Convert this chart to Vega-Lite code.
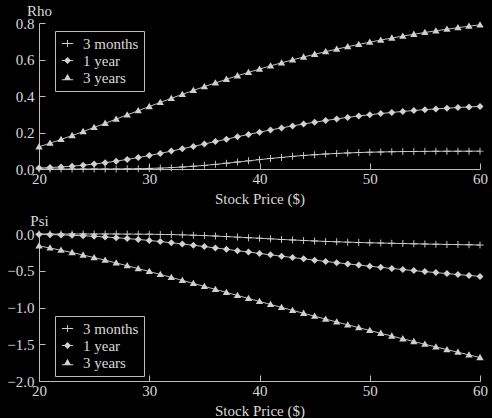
{
  "$schema": "https://vega.github.io/schema/vega-lite/v6.json",
  "background": "black",
  "padding": {"left": 6, "top": 3, "right": 10, "bottom": 0},
  "config": {
    "view": {"stroke": null},
    "font": "Liberation Serif",
    "axis": {"grid": false, "domainColor": "#bdbdbd", "tickColor": "#bdbdbd", "labelColor": "#d9d9d9", "titleColor": "#d9d9d9", "labelFont": "Liberation Serif", "titleFont": "Liberation Serif", "labelFontSize": 15, "titleFontSize": 15, "titleFontWeight": "normal", "tickSize": -6, "labelPadding": 11},
    "legend": {"orient": "none", "strokeColor": "#bdbdbd", "strokeWidth": 1, "padding": 5, "labelColor": "#d9d9d9", "labelFont": "Liberation Serif", "labelFontSize": 15, "symbolFillColor": "#d0d0d0", "symbolStrokeColor": "#d0d0d0", "symbolSize": 49, "symbolStrokeWidth": 0, "symbolOpacity": 1, "rowPadding": 1, "labelOffset": 8, "fillColor": "black"},
    "concat": {"spacing": 7}
  },
  "datasets": {
    "d": [
      {"S":20,"T":"3 months","rho":0,"psi":0},{"S":20,"T":"1 year","rho":0.0052,"psi":-0.0058},{"S":20,"T":"3 years","rho":0.1217,"psi":-0.1621},
      {"S":21,"T":"3 months","rho":0,"psi":0},{"S":21,"T":"1 year","rho":0.0079,"psi":-0.0088},{"S":21,"T":"3 years","rho":0.1413,"psi":-0.1903},
      {"S":22,"T":"3 months","rho":0,"psi":0},{"S":22,"T":"1 year","rho":0.0112,"psi":-0.0127},{"S":22,"T":"3 years","rho":0.1619,"psi":-0.2205},
      {"S":23,"T":"3 months","rho":0,"psi":0},{"S":23,"T":"1 year","rho":0.0155,"psi":-0.0176},{"S":23,"T":"3 years","rho":0.1833,"psi":-0.2523},
      {"S":24,"T":"3 months","rho":0,"psi":0},{"S":24,"T":"1 year","rho":0.0208,"psi":-0.0238},{"S":24,"T":"3 years","rho":0.2053,"psi":-0.2858},
      {"S":25,"T":"3 months","rho":0.0001,"psi":-0.0001},{"S":25,"T":"1 year","rho":0.0271,"psi":-0.0313},{"S":25,"T":"3 years","rho":0.2278,"psi":-0.3206},
      {"S":26,"T":"3 months","rho":0.0002,"psi":-0.0003},{"S":26,"T":"1 year","rho":0.0346,"psi":-0.0401},{"S":26,"T":"3 years","rho":0.2505,"psi":-0.3567},
      {"S":27,"T":"3 months","rho":0.0005,"psi":-0.0005},{"S":27,"T":"1 year","rho":0.043,"psi":-0.0502},{"S":27,"T":"3 years","rho":0.2735,"psi":-0.3938},
      {"S":28,"T":"3 months","rho":0.001,"psi":-0.0011},{"S":28,"T":"1 year","rho":0.0524,"psi":-0.0616},{"S":28,"T":"3 years","rho":0.2965,"psi":-0.4318},
      {"S":29,"T":"3 months","rho":0.0018,"psi":-0.0019},{"S":29,"T":"1 year","rho":0.0627,"psi":-0.0743},{"S":29,"T":"3 years","rho":0.3195,"psi":-0.4706},
      {"S":30,"T":"3 months","rho":0.0031,"psi":-0.0033},{"S":30,"T":"1 year","rho":0.0738,"psi":-0.0882},{"S":30,"T":"3 years","rho":0.3423,"psi":-0.51},
      {"S":31,"T":"3 months","rho":0.005,"psi":-0.0053},{"S":31,"T":"1 year","rho":0.0856,"psi":-0.1031},{"S":31,"T":"3 years","rho":0.3649,"psi":-0.55},
      {"S":32,"T":"3 months","rho":0.0075,"psi":-0.008},{"S":32,"T":"1 year","rho":0.098,"psi":-0.119},{"S":32,"T":"3 years","rho":0.3871,"psi":-0.5903},
      {"S":33,"T":"3 months","rho":0.0108,"psi":-0.0117},{"S":33,"T":"1 year","rho":0.1108,"psi":-0.1357},{"S":33,"T":"3 years","rho":0.409,"psi":-0.631},
      {"S":34,"T":"3 months","rho":0.015,"psi":-0.0162},{"S":34,"T":"1 year","rho":0.1239,"psi":-0.1531},{"S":34,"T":"3 years","rho":0.4304,"psi":-0.6718},
      {"S":35,"T":"3 months","rho":0.0199,"psi":-0.0217},{"S":35,"T":"1 year","rho":0.1371,"psi":-0.171},{"S":35,"T":"3 years","rho":0.4513,"psi":-0.7128},
      {"S":36,"T":"3 months","rho":0.0255,"psi":-0.028},{"S":36,"T":"1 year","rho":0.1504,"psi":-0.1894},{"S":36,"T":"3 years","rho":0.4717,"psi":-0.7538},
      {"S":37,"T":"3 months","rho":0.0316,"psi":-0.0349},{"S":37,"T":"1 year","rho":0.1636,"psi":-0.2081},{"S":37,"T":"3 years","rho":0.4916,"psi":-0.7949},
      {"S":38,"T":"3 months","rho":0.0381,"psi":-0.0425},{"S":38,"T":"1 year","rho":0.1766,"psi":-0.2269},{"S":38,"T":"3 years","rho":0.5109,"psi":-0.836},
      {"S":39,"T":"3 months","rho":0.0447,"psi":-0.0503},{"S":39,"T":"1 year","rho":0.1894,"psi":-0.2457},{"S":39,"T":"3 years","rho":0.5295,"psi":-0.8769},
      {"S":40,"T":"3 months","rho":0.0513,"psi":-0.0583},{"S":40,"T":"1 year","rho":0.2018,"psi":-0.2646},{"S":40,"T":"3 years","rho":0.5476,"psi":-0.9176},
      {"S":41,"T":"3 months","rho":0.0577,"psi":-0.0661},{"S":41,"T":"1 year","rho":0.2138,"psi":-0.2834},{"S":41,"T":"3 years","rho":0.565,"psi":-0.9582},
      {"S":42,"T":"3 months","rho":0.0636,"psi":-0.0738},{"S":42,"T":"1 year","rho":0.2252,"psi":-0.3019},{"S":42,"T":"3 years","rho":0.5819,"psi":-0.9986},
      {"S":43,"T":"3 months","rho":0.0692,"psi":-0.0812},{"S":43,"T":"1 year","rho":0.2362,"psi":-0.3202},{"S":43,"T":"3 years","rho":0.598,"psi":-1.0388},
      {"S":44,"T":"3 months","rho":0.0741,"psi":-0.0881},{"S":44,"T":"1 year","rho":0.2466,"psi":-0.3382},{"S":44,"T":"3 years","rho":0.6136,"psi":-1.0787},
      {"S":45,"T":"3 months","rho":0.0785,"psi":-0.0945},{"S":45,"T":"1 year","rho":0.2565,"psi":-0.3558},{"S":45,"T":"3 years","rho":0.6286,"psi":-1.1185},
      {"S":46,"T":"3 months","rho":0.0822,"psi":-0.1004},{"S":46,"T":"1 year","rho":0.2658,"psi":-0.3731},{"S":46,"T":"3 years","rho":0.643,"psi":-1.1578},
      {"S":47,"T":"3 months","rho":0.0854,"psi":-0.1058},{"S":47,"T":"1 year","rho":0.2745,"psi":-0.3901},{"S":47,"T":"3 years","rho":0.6568,"psi":-1.1969},
      {"S":48,"T":"3 months","rho":0.0881,"psi":-0.1107},{"S":48,"T":"1 year","rho":0.2827,"psi":-0.4066},{"S":48,"T":"3 years","rho":0.67,"psi":-1.2358},
      {"S":49,"T":"3 months","rho":0.0903,"psi":-0.1152},{"S":49,"T":"1 year","rho":0.2903,"psi":-0.4228},{"S":49,"T":"3 years","rho":0.6827,"psi":-1.2743},
      {"S":50,"T":"3 months","rho":0.092,"psi":-0.1194},{"S":50,"T":"1 year","rho":0.2973,"psi":-0.4385},{"S":50,"T":"3 years","rho":0.6949,"psi":-1.3127},
      {"S":51,"T":"3 months","rho":0.0934,"psi":-0.1232},{"S":51,"T":"1 year","rho":0.3038,"psi":-0.4539},{"S":51,"T":"3 years","rho":0.7065,"psi":-1.3507},
      {"S":52,"T":"3 months","rho":0.0946,"psi":-0.1267},{"S":52,"T":"1 year","rho":0.3098,"psi":-0.4689},{"S":52,"T":"3 years","rho":0.7176,"psi":-1.3884},
      {"S":53,"T":"3 months","rho":0.0954,"psi":-0.13},{"S":53,"T":"1 year","rho":0.3154,"psi":-0.4835},{"S":53,"T":"3 years","rho":0.7283,"psi":-1.4258},
      {"S":54,"T":"3 months","rho":0.0961,"psi":-0.1332},{"S":54,"T":"1 year","rho":0.3205,"psi":-0.4977},{"S":54,"T":"3 years","rho":0.7383,"psi":-1.463},
      {"S":55,"T":"3 months","rho":0.0966,"psi":-0.1361},{"S":55,"T":"1 year","rho":0.3251,"psi":-0.5117},{"S":55,"T":"3 years","rho":0.748,"psi":-1.4997},
      {"S":56,"T":"3 months","rho":0.097,"psi":-0.139},{"S":56,"T":"1 year","rho":0.3294,"psi":-0.5252},{"S":56,"T":"3 years","rho":0.7572,"psi":-1.5364},
      {"S":57,"T":"3 months","rho":0.0973,"psi":-0.1418},{"S":57,"T":"1 year","rho":0.3333,"psi":-0.5386},{"S":57,"T":"3 years","rho":0.766,"psi":-1.5727},
      {"S":58,"T":"3 months","rho":0.0975,"psi":-0.1445},{"S":58,"T":"1 year","rho":0.3369,"psi":-0.5516},{"S":58,"T":"3 years","rho":0.7744,"psi":-1.6088},
      {"S":59,"T":"3 months","rho":0.0976,"psi":-0.1471},{"S":59,"T":"1 year","rho":0.3401,"psi":-0.5643},{"S":59,"T":"3 years","rho":0.7825,"psi":-1.6445},
      {"S":60,"T":"3 months","rho":0.0977,"psi":-0.1497},{"S":60,"T":"1 year","rho":0.343,"psi":-0.5768},{"S":60,"T":"3 years","rho":0.79,"psi":-1.6803}
    ]
  },
  "resolve": {"scale": {"shape": "independent"}, "legend": {"shape": "independent"}},
  "vconcat": [
    {
      "width": 441, "height": 146,
      "data": {"name": "d"},
      "encoding": {
        "x": {"field": "S", "type": "quantitative", "scale": {"domain": [20, 60], "nice": false}, "axis": {"title": "Stock Price ($)", "values": [20, 30, 40, 50, 60], "labelFlush": false, "labelPadding": 8, "titlePadding": 5}},
        "y": {"field": "rho", "type": "quantitative", "scale": {"domain": [0, 0.8], "nice": false}, "axis": {"title": "Rho", "values": [0, 0.2, 0.4, 0.6, 0.8], "format": ".1f", "titleAngle": 0, "titleX": 0, "titleY": -8, "titleAlign": "center", "titleBaseline": "alphabetic"}}
      },
      "resolve": {"scale": {"shape": "independent"}, "legend": {"shape": "independent"}},
      "layer": [
        {"mark": {"type": "line", "color": "#bdbdbd", "strokeWidth": 1}, "encoding": {"detail": {"field": "T"}}},
        {"mark": {"type": "point", "filled": true, "fill": "#d0d0d0", "strokeWidth": 0, "size": 49, "opacity": 1},
         "encoding": {"shape": {"field": "T", "type": "nominal",
            "scale": {"domain": ["3 months", "1 year", "3 years"], "range": ["M-1,-0.13L1,-0.13L1,0.13L-1,0.13ZM-0.13,-1L0.13,-1L0.13,1L-0.13,1Z", "M0,-1L1,0L0,1L-1,0Z", "M0,-1.05L1.05,0.75L-1.05,0.75Z"]},
            "legend": null}}
        },
        {"mark": {"type": "point", "filled": true, "fill": "#d0d0d0", "strokeWidth": 0, "size": 49, "opacity": 0},
         "encoding": {"shape": {"field": "T", "type": "nominal",
            "scale": {"domain": ["3 months", "1 year", "3 years"], "range": ["M-1.6,-0.13L1.6,-0.13L1.6,0.13L-1.6,0.13ZM-0.13,-1L0.13,-1L0.13,1L-0.13,1Z", "M-1.6,-0.13L1.6,-0.13L1.6,0.13L-1.6,0.13ZM0,-1L1,0L0,1L-1,0Z", "M-1.6,0.5L1.6,0.5L1.6,0.76L-1.6,0.76ZM0,-1.05L1.05,0.75L-1.05,0.75Z"]},
            "legend": {"title": null, "legendX": 16, "legendY": 8, "symbolOpacity": 1}}}
        }
      ]
    },
    {
      "width": 441, "height": 147,
      "data": {"name": "d"},
      "encoding": {
        "x": {"field": "S", "type": "quantitative", "scale": {"domain": [20, 60], "nice": false}, "axis": {"title": "Stock Price ($)", "values": [20, 30, 40, 50, 60], "labelFlush": false, "labelPadding": 8, "titlePadding": 5}},
        "y": {"field": "psi", "type": "quantitative", "scale": {"domain": [-2, 0], "nice": false}, "axis": {"title": "Psi", "values": [-2, -1.5, -1, -0.5, 0], "format": ".1f", "titleAngle": 0, "titleX": 0, "titleY": -9, "titleAlign": "center", "titleBaseline": "alphabetic"}}
      },
      "resolve": {"scale": {"shape": "independent"}, "legend": {"shape": "independent"}},
      "layer": [
        {"mark": {"type": "line", "color": "#bdbdbd", "strokeWidth": 1}, "encoding": {"detail": {"field": "T"}}},
        {"mark": {"type": "point", "filled": true, "fill": "#d0d0d0", "strokeWidth": 0, "size": 49, "opacity": 1},
         "encoding": {"shape": {"field": "T", "type": "nominal",
            "scale": {"domain": ["3 months", "1 year", "3 years"], "range": ["M-1,-0.13L1,-0.13L1,0.13L-1,0.13ZM-0.13,-1L0.13,-1L0.13,1L-0.13,1Z", "M0,-1L1,0L0,1L-1,0Z", "M0,-1.05L1.05,0.75L-1.05,0.75Z"]},
            "legend": null}}
        },
        {"mark": {"type": "point", "filled": true, "fill": "#d0d0d0", "strokeWidth": 0, "size": 49, "opacity": 0},
         "encoding": {"shape": {"field": "T", "type": "nominal",
            "scale": {"domain": ["3 months", "1 year", "3 years"], "range": ["M-1.6,-0.13L1.6,-0.13L1.6,0.13L-1.6,0.13ZM-0.13,-1L0.13,-1L0.13,1L-0.13,1Z", "M-1.6,-0.13L1.6,-0.13L1.6,0.13L-1.6,0.13ZM0,-1L1,0L0,1L-1,0Z", "M-1.6,0.5L1.6,0.5L1.6,0.76L-1.6,0.76ZM0,-1.05L1.05,0.75L-1.05,0.75Z"]},
            "legend": {"title": null, "legendX": 16, "legendY": 82, "symbolOpacity": 1}}}
        }
      ]
    }
  ]
}
